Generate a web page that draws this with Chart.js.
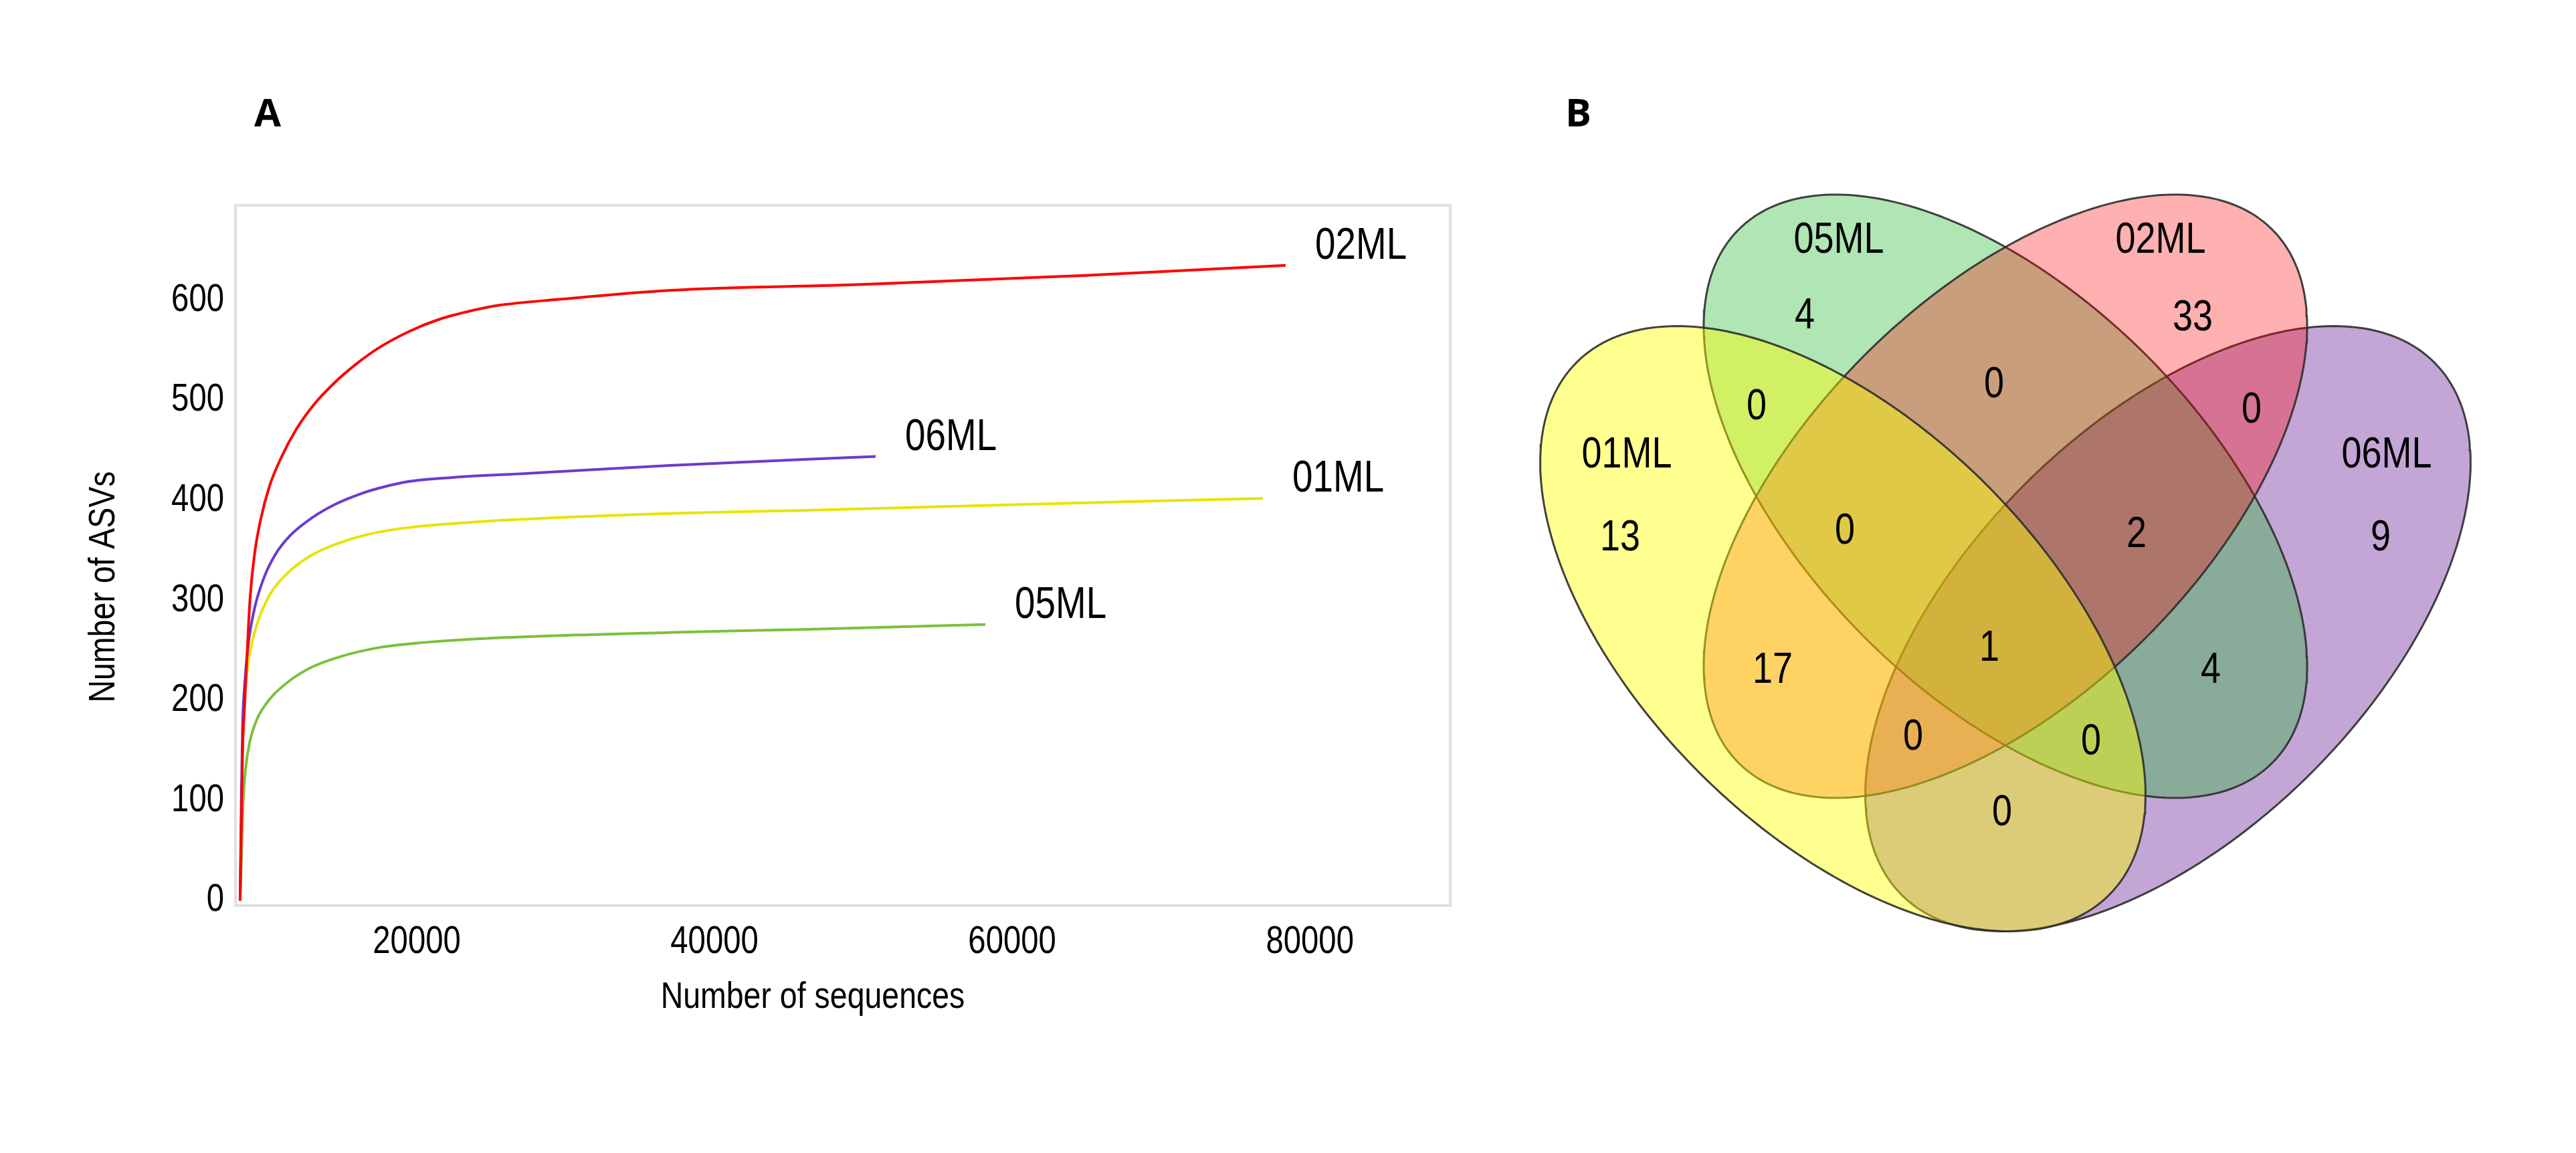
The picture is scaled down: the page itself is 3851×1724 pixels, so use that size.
<!DOCTYPE html>
<html lang="en">
<head>
<meta charset="UTF-8" />
<title>Rarefaction curves and shared ASVs</title>
<script src="https://cdn.jsdelivr.net/npm/chart.js"></script>
<style>
  body {
    margin: 0;
    background: #fff;
    width: 3851px;
    height: 1724px;
    overflow: hidden;
    position: relative;
  }
  canvas { position: absolute; }
  #curveChart { left: 0; top: 0; }
  #vennChart { left: 2250px; top: 150px; }
  .panel {
    position: absolute;
    font-family: 'Open Sans', sans-serif;
    font-weight: 700;
    font-size: 58px;
    line-height: 1;
    color: #000;
  }
</style>
</head>
<body>
<div class="panel" style="left:380px;top:138px">A</div>
<div class="panel" style="left:2340px;top:138px">B</div>
<canvas id="curveChart" width="2300" height="1724"></canvas>
<canvas id="vennChart" width="1500" height="1400"></canvas>

<script>
// ---- panel A: rarefaction curves ----
const curveNames = ['02ML', '06ML', '01ML', '05ML'];

const seq02 = [8130, 8190, 8290, 8430, 8590, 8800, 9100, 9500, 10100, 10900, 11900, 13100, 14500, 15900, 17500, 19500, 21500, 23500, 25500, 29560, 36940, 50000, 65000, 78380];
const asv02 = [0, 47, 145, 194, 243, 302, 346, 380, 414, 443, 471, 496, 518, 536, 553, 569, 581, 589, 595, 601, 610, 616, 625, 635];

const seq06 = [8130, 8210, 8290, 8450, 8690, 9100, 9690, 10500, 11500, 12900, 14500, 16300, 17920, 19500, 22500, 27500, 36940, 50830];
const asv06 = [0, 96, 170, 218, 257, 292, 321, 346, 365, 382, 396, 407, 414, 419, 423, 427, 435, 444];

const seq01 = [8130, 8230, 8330, 8490, 8800, 9290, 10100, 11300, 12900, 14700, 16700, 19500, 22500, 25500, 36940, 45850, 68400, 76850];
const asv01 = [0, 96, 169, 213, 248, 277, 305, 327, 345, 357, 366, 373, 377, 380, 387, 390, 399, 402];

const seq05 = [8130, 8230, 8330, 8490, 8800, 9290, 10100, 11300, 12900, 14900, 17500, 20500, 24500, 36940, 45850, 58200];
const asv05 = [0, 47, 96, 130, 160, 182, 201, 218, 233, 244, 253, 258, 262, 268, 271, 276];

const xTicks = [20000, 40000, 60000, 80000];
const yTicks = [0, 100, 200, 300, 400, 500, 600];

// ---- panel B: Venn diagram ----
const vennSets = ['01ML', '05ML', '02ML', '06ML'];
// regions: 01, 05, 02, 06, 01&05, 05&02, 02&06, 01&02, 05&06, 01&06,
//          01&05&02, 05&02&06, 01&02&06, 01&05&06, all four
const vennCounts = [13, 4, 33, 9, 0, 0, 0, 17, 4, 0, 0, 2, 0, 0, 1];

const sansFont = "'Liberation Sans', Arial, sans-serif";
const squeeze = 0.83; // the figure uses a condensed face

const curveSeqs = [seq02, seq06, seq01, seq05];
const curveAsvs = [asv02, asv06, asv01, asv05];
const curveColors = ['#ff0000', '#6a3acf', '#e8e400', '#7cc03c'];

function squeezed(ctx, text, x, y) {
  const w = ctx.measureText(text).width;
  ctx.fillText(text, x, y, w * squeeze);
}

const frame = {
  id: 'frame',
  beforeDatasetsDraw(chart) {
    const {ctx, chartArea: a} = chart;
    ctx.save();
    ctx.strokeStyle = '#e0e0e0';
    ctx.lineWidth = 4;
    ctx.strokeRect(a.left, a.top, a.right - a.left, a.bottom - a.top);
    ctx.restore();
  }
};

const axisText = {
  id: 'axisText',
  afterDraw(chart) {
    const {ctx, chartArea: a, scales: {x, y}} = chart;
    ctx.save();
    ctx.fillStyle = '#000';
    ctx.textBaseline = 'middle';
    ctx.font = '57px ' + sansFont;
    ctx.textAlign = 'center';
    x.ticks.forEach(t => squeezed(ctx, String(t.value), x.getPixelForValue(t.value), a.bottom + 55));
    ctx.textAlign = 'right';
    y.ticks.forEach(t => squeezed(ctx, String(t.value), a.left - 17, y.getPixelForValue(t.value)));
    ctx.font = '56px ' + sansFont;
    ctx.textAlign = 'center';
    squeezed(ctx, 'Number of sequences', (a.left + a.right) / 2 - 45, a.bottom + 138);
    ctx.translate(a.left - 196, (a.top + a.bottom) / 2 + 47);
    ctx.rotate(-Math.PI / 2);
    squeezed(ctx, 'Number of ASVs', 0, 0);
    ctx.restore();
  }
};

const endLabels = {
  id: 'endLabels',
  afterDatasetsDraw(chart) {
    const {ctx} = chart;
    ctx.save();
    ctx.fillStyle = '#000';
    ctx.font = '66px ' + sansFont;
    ctx.textAlign = 'left';
    ctx.textBaseline = 'middle';
    chart.data.datasets.forEach((ds, i) => {
      const pts = chart.getDatasetMeta(i).data;
      const last = pts[pts.length - 1];
      squeezed(ctx, ds.label, last.x + 44, last.y - 28);
    });
    ctx.restore();
  }
};

new Chart(document.getElementById('curveChart'), {
  type: 'line',
  data: {
    datasets: curveNames.map((name, i) => ({
      label: name,
      data: curveSeqs[i].map((s, j) => ({x: s, y: curveAsvs[i][j]})),
      borderColor: curveColors[i],
      borderWidth: 4,
      pointRadius: 0,
      fill: false,
      cubicInterpolationMode: 'monotone'
    }))
  },
  options: {
    responsive: false,
    animation: false,
    devicePixelRatio: 1,
    layout: {padding: {left: 0, top: 307, right: 132, bottom: 0}},
    plugins: {legend: {display: false}, tooltip: {enabled: false}},
    scales: {
      x: {
        type: 'linear',
        min: 7820,
        max: 89430,
        grid: {display: false},
        border: {display: false},
        ticks: {display: false},
        afterBuildTicks: s => { s.ticks = xTicks.map(v => ({value: v})); },
        afterFit: s => { s.height = 370; }
      },
      y: {
        type: 'linear',
        min: -5,
        max: 695,
        grid: {display: false},
        border: {display: false},
        ticks: {display: false},
        afterBuildTicks: s => { s.ticks = yTicks.map(v => ({value: v})); },
        afterFit: s => { s.width = 352; }
      }
    }
  },
  plugins: [frame, axisText, endLabels]
});

// ellipse geometry in diagram units (1 unit = 100 px); drawn bottom to top:
// 06ML, 05ML, 02ML, 01ML
const vennShapes = [
  {cx: 5.05, cy: 6.10, a: 5.63, b: 3.04, angle: -45, fill: 'rgba(255,255,0,0.44)', order: 1},
  {cx: 7.48, cy: 8.08, a: 5.64, b: 2.98, angle: -45, fill: 'rgba(30,180,40,0.35)', order: 3},
  {cx: 7.48, cy: 8.08, a: 5.64, b: 2.98, angle: 45, fill: 'rgba(255,0,0,0.31)', order: 2},
  {cx: 9.91, cy: 6.10, a: 5.63, b: 3.04, angle: 45, fill: 'rgba(135,77,173,0.5)', order: 4}
];
const vennNameX = [1.82, 4.99, 9.80, 13.18];
const vennNameY = [8.69, 11.90, 11.90, 8.69];
const vennCountX = [1.72, 4.48, 10.28, 13.09, 3.76, 7.31, 11.16, 4.00, 10.55, 7.43, 5.08, 9.44, 6.10, 8.76, 7.24];
const vennCountY = [7.45, 10.77, 10.74, 7.45, 9.41, 9.74, 9.36, 5.47, 5.47, 3.34, 7.55, 7.50, 4.47, 4.40, 5.80];

function ellipseOutline(e) {
  const th = e.angle * Math.PI / 180;
  const pts = [];
  for (let k = 0; k <= 240; k++) {
    const t = k / 240 * 2 * Math.PI;
    pts.push({
      x: e.cx + e.a * Math.cos(t) * Math.cos(th) - e.b * Math.sin(t) * Math.sin(th),
      y: e.cy + e.a * Math.cos(t) * Math.sin(th) + e.b * Math.sin(t) * Math.cos(th)
    });
  }
  return pts;
}

const vennText = {
  id: 'vennText',
  afterDatasetsDraw(chart) {
    const {ctx, scales: {x, y}} = chart;
    ctx.save();
    ctx.fillStyle = '#000';
    ctx.font = '65px ' + sansFont;
    ctx.textAlign = 'center';
    ctx.textBaseline = 'middle';
    vennSets.forEach((s, i) => squeezed(ctx, s, x.getPixelForValue(vennNameX[i]), y.getPixelForValue(vennNameY[i])));
    vennCounts.forEach((c, i) => squeezed(ctx, String(c), x.getPixelForValue(vennCountX[i]), y.getPixelForValue(vennCountY[i])));
    ctx.restore();
  }
};

new Chart(document.getElementById('vennChart'), {
  type: 'scatter',
  data: {
    datasets: vennShapes.map((e, i) => ({
      label: vennSets[i],
      data: ellipseOutline(e),
      showLine: true,
      fill: 'shape',
      backgroundColor: e.fill,
      borderColor: 'rgba(45,45,45,0.9)',
      borderWidth: 3,
      pointRadius: 0,
      tension: 0,
      order: e.order
    }))
  },
  options: {
    responsive: false,
    animation: false,
    devicePixelRatio: 1,
    layout: {padding: 0},
    plugins: {legend: {display: false}, tooltip: {enabled: false}},
    scales: {
      x: {type: 'linear', min: 0, max: 15, display: false},
      y: {type: 'linear', min: 0, max: 14, display: false}
    }
  },
  plugins: [vennText]
});
</script>
</body>
</html>
